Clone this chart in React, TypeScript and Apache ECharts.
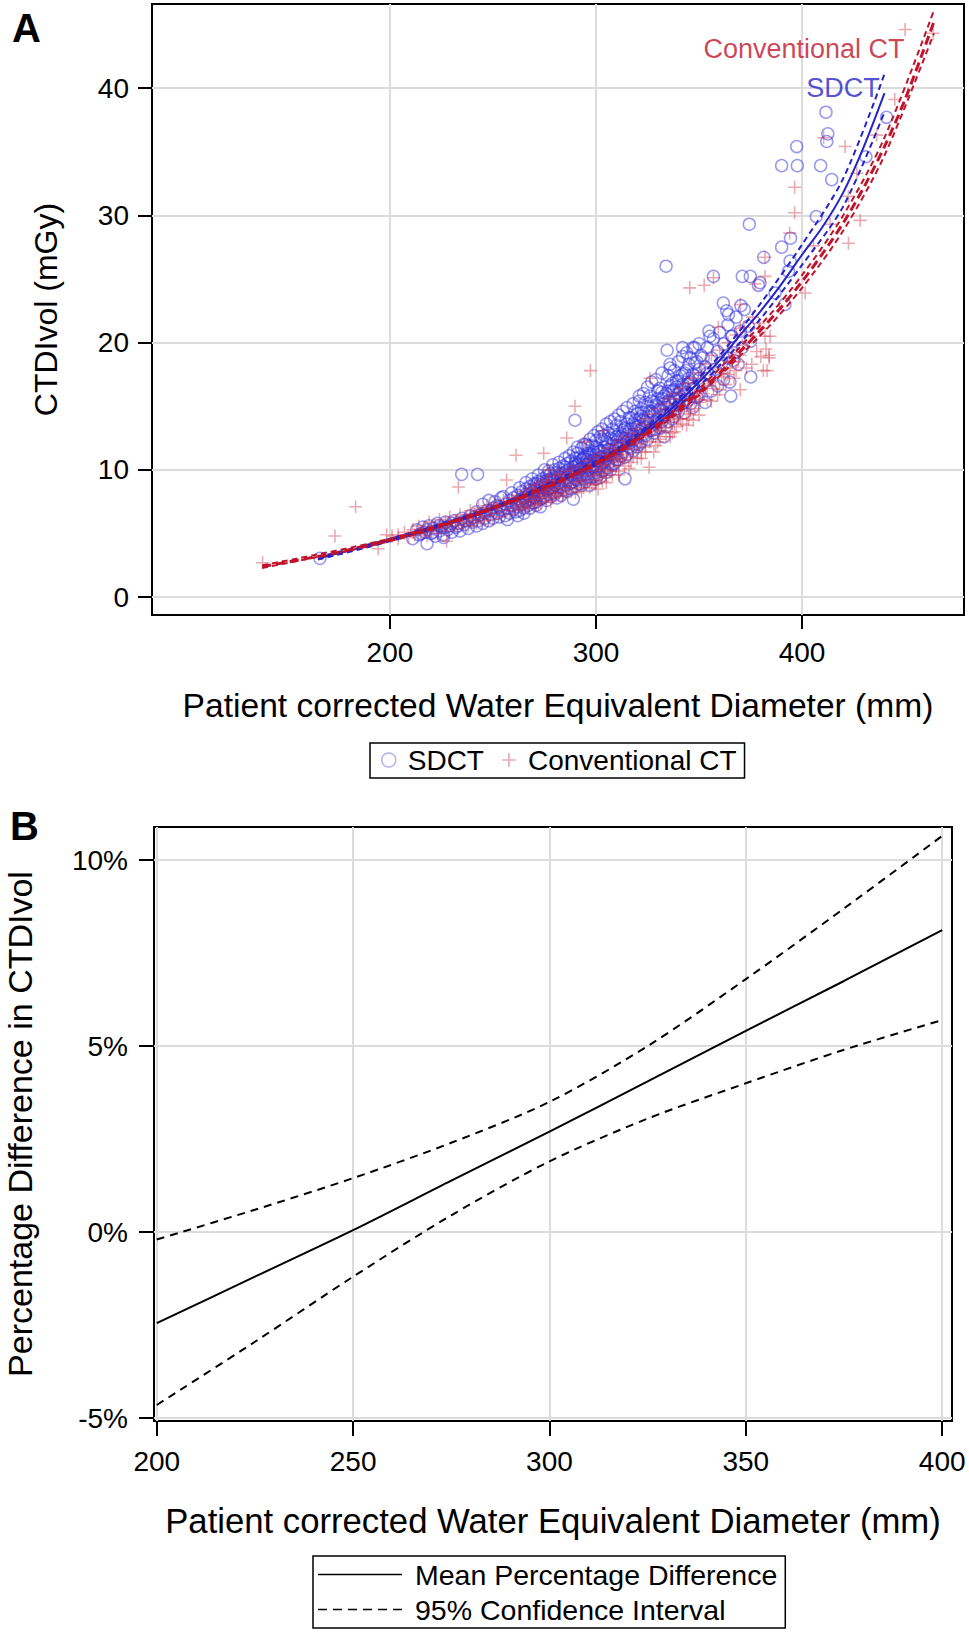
import React, { useEffect, useRef } from "react";
import * as echarts from "echarts";

const FONT = '"Liberation Sans", Arial, Helvetica, sans-serif';

// ---------- axis ticks ----------
const aXTicks = [200, 300, 400];
const aYTicks = [0, 10, 20, 30, 40];
const bXTicks = [200, 250, 300, 350, 400];
const bYTicks = [-5, 0, 5, 10];

// ---------- Panel A: SDCT scatter (diameter mm, CTDIvol mGy) ----------
const sdctBand = [
  [211,4.6],[213,5.3],[214,4.9],[216,5.5],[217,5.1],[219,5.6],[220,5.0],[221,5.4],[222,4.8],[223,5.8],
  [224,5.2],[225,5.5],[226,4.9],[227,5.9],[228,5.3],[229,5.6],[230,5.1],[231,6.0],[232,5.5],[233,5.8],
  [234,5.2],[235,6.2],[236,5.7],[237,6.0],[238,5.4],[239,6.4],[240,5.9],
  [241,6.3],[242,5.6],[242,6.7],[243,6.0],[244,6.5],[245,5.8],[245,7.3],[246,6.2],[247,6.8],[248,6.0],
  [248,7.6],[249,6.5],[250,7.0],[250,6.2],[251,7.5],[252,6.6],[253,7.1],[253,6.3],[254,7.8],[255,6.8],
  [256,7.3],[256,6.4],[257,7.0],[258,7.6],[258,6.6],[259,7.2],[260,6.9],[260,7.8],
  [261,7.4],[261,6.7],[262,8.0],[262,7.1],[263,7.6],[263,6.8],[264,8.3],[264,7.3],[265,7.8],[265,7.0],
  [266,8.5],[266,7.5],[267,8.0],[267,7.2],[268,8.7],[268,7.7],[269,8.2],[269,7.4],[270,8.9],[270,7.8],
  [271,8.4],[271,7.5],[272,9.1],[272,8.0],[273,8.6],[273,7.7],[274,9.3],[274,8.2],[275,8.8],[275,7.9],
  [276,9.5],[276,8.4],[277,9.0],[277,8.1],[278,9.7],[278,8.6],[279,9.2],[279,8.2],[280,10.0],[280,8.8],
  [281,9.4],[281,8.3],[282,10.1],[282,9.0],[283,9.6],[283,8.6],[284,10.3],[284,9.2],[285,9.8],[285,8.8],
  [286,10.5],[286,9.4],[287,10.0],[287,8.9],[288,10.7],[288,9.6],[289,10.2],[289,9.1],[290,10.9],[290,9.8],
  [291,10.4],[291,9.2],[291,11.3],[292,10.0],[292,8.9],[293,10.8],[293,9.6],[293,11.7],[294,10.2],[294,9.3],
  [295,11.0],[295,9.9],[295,12.0],[296,10.5],[296,9.4],[297,11.3],[297,10.1],[297,8.8],[298,10.7],[298,11.9],
  [299,10.3],[299,9.5],[300,11.2],[300,10.0],[300,12.3],[301,10.7],[301,9.6],[302,11.5],[302,10.3],[302,12.6],
  [303,11.0],[303,9.9],[304,11.8],[304,10.6],[305,12.2],[305,11.1],[305,9.8],[306,11.6],[306,10.5],[307,12.5],
  [307,11.2],[308,11.9],[308,10.4],[309,12.8],[309,11.5],[310,12.2],[310,10.8],[310,13.5],[311,11.7],[312,12.6],
  [312,11.1],[313,13.1],[313,12.0],[314,12.5],[314,11.0],[315,13.6],[315,12.2],[316,13.0],[317,12.4],[317,14.1],
  [318,12.8],[318,11.5],[319,13.5],[320,12.9],[320,11.8],[320,14.4],
  [321,13.4],[322,12.2],[322,14.8],[323,13.9],[324,12.7],[324,15.3],[325,14.2],[326,13.1],[326,15.8],[327,14.6],
  [328,12.9],[328,13.8],[329,15.1],[330,14.0],[330,16.2],[331,13.3],[331,14.8],[332,15.6],[333,14.3],[333,12.6],
  [334,16.0],[334,14.9],[335,15.4],[335,13.8],[336,16.6],[337,15.1],[337,14.0],[338,16.3],[339,15.5],[339,17.0],
  [340,14.6],[340,16.0],[341,17.4],[342,15.2],[342,16.7],[343,14.5],[344,17.8],[344,16.1],[345,15.5],[345,18.3],
  [346,16.9],[347,14.9],[347,17.5],[348,16.3],[349,18.5],
  [350,17.2],[350,15.8],[351,19.0],[352,16.8],[353,18.1],[353,15.3],[354,19.6],[355,17.5],[356,18.8],[356,16.2],
  [357,20.3],[358,17.9],[359,19.3],[359,16.6],[360,20.8],[361,18.4],[362,17.1],[362,19.9],[364,21.4],[364,18.8],
  [365,16.9],[366,20.5],[367,19.2],[368,22.0],[369,18.3],[370,20.9],[371,19.6],[372,22.6],[374,21.3],[375,20.1]
];
const sdctCore = [
  [215,5.0],[218,5.3],[221,5.1],[224,5.6],[227,5.5],[230,5.8],[233,5.6],[236,6.0],[239,6.1],[243,6.4],
  [246,6.6],[249,6.8],[252,7.2],[254,6.9],
  [255,7.9],[257,6.1],[259,8.2],[262,6.4],[263,8.6],[265,6.6],[266,9.0],[268,7.0],[269,9.3],[271,7.2],
  [272,9.6],[273,7.1],[274,8.9],[275,10.0],[276,7.6],[277,9.9],[278,7.9],[279,10.4],[280,9.4],[281,7.8],
  [282,10.6],[283,8.0],[284,9.7],[285,10.9],[286,8.3],[287,11.1],[288,8.5],[289,11.4],[290,10.3],[290,8.7],
  [291,11.8],[292,9.5],[292,11.0],[293,8.8],[294,12.0],[294,10.9],[295,9.1],[296,11.9],[296,10.8],[297,12.4],
  [298,9.4],[298,11.2],[299,12.7],[299,10.8],[300,9.3],[300,11.8],[301,13.0],[301,11.4],[302,9.4],[303,12.4],
  [303,13.2],[304,10.0],[304,12.7],[305,13.6],[306,10.2],[306,12.9],[307,13.8],[307,10.0],[308,13.2],[308,11.2],
  [309,14.0],[309,10.5],[310,12.6],[311,14.3],[311,10.8],[312,13.8],[313,11.4],[313,14.6],[314,13.2],[315,11.2],
  [315,14.9],[316,12.1],[316,14.1],[317,11.7],[318,15.2],[318,13.6],[319,12.0],[319,14.6],[320,13.4],[321,15.4],
  [321,12.0],[322,14.2],[323,12.8],[323,16.0],[324,13.8],[325,12.4],[325,16.5],[326,14.6],[327,13.1],[327,16.9],
  [328,15.3],[329,13.6],[329,17.1],[330,15.0],[331,16.4],[332,13.8],[332,17.6],[333,15.8],[334,13.4],[335,17.4],
  [336,14.6],[336,18.0],[337,16.2],[338,14.2],[338,17.8],[339,16.5],[340,18.5],[340,15.1],[341,16.3],[342,18.9],
  [343,15.9],[343,17.6],[344,19.2],[345,16.8],[346,15.2],[346,18.8],[347,19.6],[348,17.4],[349,15.7],[350,19.9]
];
const sdctCore2 = [
  [266,8.1],[267,7.6],[268,8.4],[269,7.9],[270,8.5],[270,7.4],[271,8.9],[272,8.3],[273,9.0],[274,7.8],
  [275,8.6],[276,9.2],[277,8.5],[278,9.3],[279,8.6],[280,9.1],[280,8.1],[281,9.8],[282,8.7],[283,9.4],
  [284,8.4],[285,10.2],[286,9.1],[287,9.7],[288,9.0],[289,9.9],[290,9.3],[290,10.6],[291,9.8],[292,10.5],
  [293,10.1],[294,10.9],[295,10.4],[296,11.3],[296,9.7],[297,10.7],[298,10.2],[299,11.4],[300,10.7],[300,9.8],
  [301,11.6],[302,11.0],[303,10.5],[304,11.5],[305,10.9],[306,12.1],[307,11.6],[308,12.4],[309,11.1],[310,11.9],
  [311,12.8],[312,11.9],[313,12.5],[314,13.3],[315,12.8],[316,11.8],[317,13.2],[318,12.3],[319,13.9],[320,12.6],
  [321,14.0],[322,13.2],[323,14.5],[324,13.4],[325,15.0],[326,13.9],[327,15.4],[328,14.4],[329,13.2],[330,15.6],
  [331,14.6],[332,16.1],[333,15.2],[334,14.3],[335,16.2],[336,15.3],[337,16.8],[338,15.6],[339,14.8],[340,17.0],
  [341,15.7],[342,17.5],[343,16.4],[344,15.3],[345,17.2],[347,16.4],[348,18.4],[350,17.9],[352,18.8],[354,17.6]
];
const sdctOutliers = [
  [334,26.0],[374.4,29.3],[411.6,38.1],[412.5,36.4],[412,35.8],[397.4,35.4],[390.1,33.9],[397.7,33.9],
  [409,33.9],[414.4,32.8],[431,34.6],[441,37.7],[406.9,29.9],[390.1,27.5],[394.4,28.2],[381.4,26.7],
  [394.2,26.4],[371,25.2],[374.9,25.2],[357,25.2],[391.7,23.0],[361.8,23.1],[363.4,22.5],[370.3,22.9],
  [375.1,17.3],[365.4,15.8],[354.8,20.9],[334.5,19.4],[335.9,18.3],[342,19.6],[348,19.6],[314.1,9.3],
  [289.8,13.9],[321,15.8],[234.8,9.65],[242.5,9.65],[166,3.05],[218,4.2],[226,4.7],[289,7.7],
  [393.4,25.6],[386.9,23.9],[379.6,24.7],[378.8,24.5],[364.3,22.2],[355.3,20.5],[365.9,20.5],[366.7,18.6]
];

// ---------- Panel A: Conventional CT scatter ----------
const convBand = [
  [201,4.8],[204,4.6],[207,5.1],[209,4.7],[211,5.3],[212,4.9],[214,5.6],[215,5.0],[217,5.4],[218,4.8],
  [219,5.9],[220,5.2],[222,5.6],[223,5.0],[224,6.1],[225,5.4],[227,5.8],[228,5.2],[229,6.3],[230,5.6],
  [232,6.0],[233,5.4],[234,6.5],[235,5.8],[237,6.2],[238,5.6],[239,6.8],[240,6.0],
  [241,6.5],[242,5.8],[243,7.0],[244,6.2],[245,6.7],[246,6.0],[247,7.2],[248,6.4],[249,6.9],[250,6.1],
  [251,7.4],[252,6.6],[253,7.1],[254,6.3],[255,7.6],[256,6.8],[257,7.3],[258,6.5],[259,7.8],[260,7.0],
  [261,7.5],[261,6.8],[262,8.0],[263,7.2],[264,7.7],[264,6.9],[265,8.3],[266,7.4],[267,7.9],[267,7.0],
  [268,8.5],[269,7.6],[270,8.1],[270,7.2],[271,8.8],[272,7.8],[273,8.3],[273,7.4],[274,9.0],[275,8.0],
  [276,8.6],[276,7.6],[277,9.2],[278,8.2],[279,8.8],[279,7.8],[280,9.5],[281,8.4],[282,9.0],[282,8.0],
  [283,9.7],[284,8.6],[285,9.2],[285,8.1],[286,9.9],[287,8.8],[288,9.4],[288,8.3],[289,10.1],[290,9.0],
  [291,9.6],[291,8.5],[292,10.3],[293,9.2],[293,8.3],[294,9.9],[295,10.7],[295,8.9],[296,9.5],[297,10.4],
  [297,8.6],[298,9.9],[299,10.9],[299,9.2],[300,10.2],[300,8.9],[301,11.1],[302,9.7],[302,10.6],[303,9.1],
  [304,11.3],[304,10.0],[305,10.8],[305,9.4],[306,11.7],[307,10.3],[308,11.1],[308,9.6],[309,12.0],[310,10.6],
  [310,11.5],[311,9.9],[312,12.3],[312,10.9],[313,11.7],[314,10.3],[315,12.6],[315,11.2],[316,12.1],[317,10.6],
  [318,12.9],[318,11.6],[319,12.4],[320,10.9],[320,13.2],
  [321,12.0],[322,13.6],[322,11.4],[323,12.6],[324,14.0],[324,11.8],[325,13.1],[326,12.2],[327,14.4],[327,12.7],
  [328,13.5],[329,11.9],[330,14.8],[330,13.0],[331,12.4],[332,14.1],[333,15.2],[333,13.3],[334,12.6],[335,14.6],
  [336,13.7],[336,15.6],[337,12.9],[338,14.2],[339,16.0],[339,13.4],[340,15.1],[341,14.0],[342,16.4],[342,13.6],
  [343,15.5],[344,14.4],[345,16.8],[345,14.0],[346,15.8],[347,17.2],[348,14.8],[349,16.3],[350,15.3],
  [351,17.6],[352,16.0],[353,18.3],[354,15.5],[355,17.0],[356,19.0],[357,16.4],[358,18.0],[359,15.9],[360,19.4],
  [361,17.3],[362,18.6],[363,16.7],[364,20.0],[365,18.0],[366,19.2],[367,17.2],[368,20.6],[369,18.5],[370,16.3],
  [371,19.8],[372,21.2],[373,18.0],[375,20.5],[376,22.0],[378,19.3],[379,21.5],[380,18.9],[382,20.5],[384,19.0],
  [383,17.8]
];
const convCore = [
  [262,7.5],[265,7.1],[268,7.9],[270,8.6],[272,7.3],[274,8.4],[276,9.1],[278,7.5],[280,8.2],[282,9.6],
  [284,7.9],[286,8.6],[288,9.9],[290,8.2],[292,9.1],[294,8.6],[296,10.1],[298,8.8],[300,9.6],[301,8.5],
  [303,10.4],[305,9.0],[307,9.9],[309,10.9],[311,9.6],[313,10.8],[315,11.7],[316,10.1],[318,11.0],[320,12.1],
  [322,10.9],[324,11.4],[326,13.4],[328,11.4],[330,12.2],[332,13.1],[334,13.9],[336,12.6],[338,13.0],[340,14.0],
  [342,15.0],[344,13.5],[346,14.6],[348,15.8],[350,14.3],[352,17.0],[354,16.6],[356,15.4],[358,16.9],[360,16.3],
  [362,17.6],[364,17.5],[366,18.5],[368,17.8],[370,19.0]
];
const convOutliers = [
  [450,44.6],[463.6,44.3],[445,39.1],[436.2,36.3],[420.9,35.4],[410.5,36.1],[396.4,32.2],[396.4,30.2],
  [426.6,33.3],[428.2,29.6],[422.5,27.8],[422.5,31.5],[413.6,29.3],[394,28.6],[405.5,27.6],[401.5,23.9],
  [382,26.7],[382,25.2],[345.5,24.3],[352.5,24.5],[357,25.1],[377.2,24.6],[370,23.0],[297.3,17.8],
  [289.8,15.0],[285.8,12.5],[294.5,12.2],[382.5,19.5],[384,18.8],[375.6,18.3],[381.2,17.8],[370,21.1],
  [379.6,21.1],[384.5,20.5],[325.8,10.2],[303.5,13.1],[326.2,17.2],[359.4,21.2],[347.2,13.9],[350.5,15.5],
  [261.2,11.15],[274.6,11.3],[183.3,7.1],[173.3,4.8],[138.2,2.7],[233.2,8.65],[198.4,4.9],[194.3,3.8],
  [204,4.9],[256.6,9.2],[276.8,10.0],[227.5,4.4]
];

// ---------- Panel A: fitted curves with 95% CI ----------
const sdctFit = [
  [165,3.05],[170,3.25],[180,3.65],[190,4.05],[200,4.5],[210,4.95],[220,5.4],[230,5.9],[240,6.45],[250,7.0],
  [260,7.6],[270,8.25],[280,8.95],[290,9.7],[300,10.55],[310,11.5],[320,12.6],[330,13.9],[340,15.3],[350,16.9],
  [360,18.6],[370,20.6],[380,22.5],[390,24.6],[400,26.9],[410,29.1],[420,31.8],[430,35.4],[440,39.6]
];
const sdctUpper = [
  [165,3.15],[200,4.6],[250,7.1],[300,10.7],[320,12.8],[340,15.6],[360,19.0],[380,23.1],[400,27.7],[420,32.9],[440,41.1]
];
const sdctLower = [
  [165,2.95],[200,4.4],[250,6.9],[300,10.4],[320,12.4],[340,15.0],[360,18.2],[380,21.9],[400,26.1],[420,30.7],[440,38.1]
];
const convFit = [
  [138,2.4],[150,2.75],[160,3.05],[170,3.35],[180,3.7],[190,4.1],[200,4.5],[210,4.95],[220,5.4],[230,5.9],
  [240,6.45],[250,7.0],[260,7.6],[270,8.25],[280,8.95],[290,9.7],[300,10.5],[310,11.4],[320,12.4],[330,13.5],
  [340,14.7],[350,16.1],[360,17.6],[370,19.3],[380,21.0],[390,22.8],[400,24.8],[410,27.0],[420,29.4],[430,32.2],
  [440,35.4],[450,39.1],[464,45.2]
];
const convUpper = [
  [138,2.5],[200,4.6],[250,7.1],[300,10.6],[340,14.9],[380,21.4],[400,25.3],[420,30.0],[440,36.1],[464,46.1]
];
const convLower = [
  [138,2.3],[200,4.4],[250,6.9],[300,10.4],[340,14.5],[380,20.6],[400,24.3],[420,28.8],[440,34.7],[464,44.3]
];

// curve labels anchored in data space (right end of text)
const curveLabels = [
  { text: "Conventional CT", x: 450, y: 43.1, color: "#c0142c" },
  { text: "SDCT", x: 438, y: 40.0, color: "#2424c8" }
];

// ---------- Panel B: percentage difference ----------
const bDiameter = [200, 225, 250, 275, 300, 325, 350, 375, 400];
const bMean = [-2.45, -1.2, 0.05, 1.38, 2.7, 4.05, 5.41, 6.75, 8.12];
const bUpper = [-0.2, 0.6, 1.45, 2.4, 3.5, 5.0, 6.8, 8.7, 10.65];
const bLower = [-4.65, -2.95, -1.2, 0.45, 1.9, 3.05, 4.0, 4.9, 5.7];

const BLUE_PT = "rgba(48,48,222,0.62)";
const RED_PT = "rgba(205,40,60,0.5)";
const BLUE_LINE = "#2424c8";
const RED_LINE = "#c0142c";
const GRID_C = "#dcdcdc";
const PLUS = "path://M4.4,0H5.6V4.4H10V5.6H5.6V10H4.4V5.6H0V4.4H4.4Z";

function baseAxis(extra: any) {
  return {
    type: "value",
    axisLine: { show: false, onZero: false },
    splitLine: { show: true, lineStyle: { color: GRID_C, width: 2 } },
    nameLocation: "middle",
    nameTextStyle: { color: "#000", fontFamily: FONT },
    ...extra
  };
}

export default function App() {
  const ref = useRef<HTMLDivElement>(null);
  useEffect(() => {
    if (!ref.current) return;
    const chart = echarts.init(ref.current, undefined, { renderer: "svg" });
    const lbl = (custom: number[], margin: number, fmt?: any) => ({
      customValues: custom,
      fontSize: 28,
      color: "#000",
      fontFamily: FONT,
      margin,
      formatter: fmt
    });
    const tick = (custom: number[], len: number) => ({
      show: true,
      length: len,
      customValues: custom,
      lineStyle: { color: "#000", width: 2 }
    });
    const option: any = {
      animation: false,
      backgroundColor: "#fff",
      textStyle: { fontFamily: FONT },
      graphic: [
        { type: "text", left: 12, top: 8, style: { text: "A", font: `bold 40px ${FONT}`, fill: "#000" } },
        { type: "text", left: 10, top: 806, style: { text: "B", font: `bold 40px ${FONT}`, fill: "#000" } }
      ],
      grid: [
        { left: 152, top: 4, width: 812, height: 611, show: true, borderColor: "#000", borderWidth: 2, outerBoundsMode: "none", containLabel: false },
        { left: 154, top: 827, width: 798, height: 594, show: true, borderColor: "#000", borderWidth: 2, outerBoundsMode: "none", containLabel: false }
      ],
      xAxis: [
        baseAxis({
          gridIndex: 0, min: 84.5, max: 478.6,
          name: "Patient corrected Water Equivalent Diameter (mm)", nameGap: 73,
          nameTextStyle: { color: "#000", fontFamily: FONT, fontSize: 33.6 },
          axisTick: tick(aXTicks, 14), axisLabel: lbl(aXTicks, 23)
        }),
        baseAxis({
          gridIndex: 1, min: 199.3, max: 402.5,
          name: "Patient corrected Water Equivalent Diameter (mm)", nameGap: 82,
          nameTextStyle: { color: "#000", fontFamily: FONT, fontSize: 34.7 },
          axisTick: tick(bXTicks, 15), axisLabel: lbl(bXTicks, 26)
        })
      ],
      yAxis: [
        baseAxis({
          gridIndex: 0, min: -1.4, max: 46.6,
          name: "CTDIvol (mGy)", nameGap: 90, nameRotate: 90,
          nameTextStyle: { color: "#000", fontFamily: FONT, fontSize: 32 },
          axisTick: tick(aYTicks, 14), axisLabel: lbl(aYTicks, 23)
        }),
        baseAxis({
          gridIndex: 1, min: -5.08, max: 10.89,
          name: "Percentage Difference in CTDIvol", nameGap: 117, nameRotate: 90,
          nameTextStyle: { color: "#000", fontFamily: FONT, fontSize: 34 },
          axisTick: tick(bYTicks, 15), axisLabel: lbl(bYTicks, 26, (v: number) => `${v}%`)
        })
      ],
      legend: [
        {
          left: 370, top: 743, orient: "horizontal",
          padding: [3, 8, 4, 11], itemGap: 18, itemWidth: 14, itemHeight: 14,
          borderColor: "#000", borderWidth: 1.5, selectedMode: false,
          textStyle: { fontSize: 28, color: "#000", fontFamily: FONT, padding: [0, 0, 0, 7] },
          data: [
            { name: "SDCT", icon: "circle", itemStyle: { color: "rgba(0,0,0,0)", borderColor: "rgba(60,60,225,0.5)", borderWidth: 1.5 } },
            { name: "Conventional CT", icon: PLUS, itemStyle: { color: RED_PT, borderWidth: 0 } }
          ]
        },
        {
          left: 313, top: 1556, orient: "vertical",
          padding: [4, 8, 4, 5], itemGap: 6, itemWidth: 84, itemHeight: 14,
          borderColor: "#000", borderWidth: 1.5, selectedMode: false,
          textStyle: { fontSize: 28.5, color: "#000", fontFamily: FONT, padding: [0, 0, 0, 8] },
          data: [
            { name: "Mean Percentage Difference", icon: "path://M0,0H84V1.6H0Z", itemStyle: { color: "#000" } },
            { name: "95% Confidence Interval", icon: "path://M0,0H9V1.6H0ZM15,0H24V1.6H15ZM30,0H39V1.6H30ZM45,0H54V1.6H45ZM60,0H69V1.6H60ZM75,0H84V1.6H75Z", itemStyle: { color: "#000" } }
          ]
        }
      ],
      series: [
        {
          name: "SDCT", type: "scatter", xAxisIndex: 0, yAxisIndex: 0,
          symbol: "circle", symbolSize: 12,
          itemStyle: { color: "rgba(0,0,0,0)", borderColor: BLUE_PT, borderWidth: 1.5 },
          data: [...sdctBand, ...sdctCore, ...sdctCore2, ...sdctOutliers], silent: true
        },
        {
          name: "Conventional CT", type: "scatter", xAxisIndex: 0, yAxisIndex: 0,
          symbol: PLUS, symbolSize: 13,
          itemStyle: { color: RED_PT },
          data: [...convBand, ...convCore, ...convOutliers], silent: true
        },
        {
          name: "SDCT fit", type: "line", xAxisIndex: 0, yAxisIndex: 0, showSymbol: false, smooth: 0.3, silent: true,
          lineStyle: { color: BLUE_LINE, width: 2 }, data: sdctFit
        },
        {
          name: "SDCT upper", type: "line", xAxisIndex: 0, yAxisIndex: 0, showSymbol: false, smooth: 0.3, silent: true,
          lineStyle: { color: BLUE_LINE, width: 2, type: [6, 4] }, data: sdctUpper
        },
        {
          name: "SDCT lower", type: "line", xAxisIndex: 0, yAxisIndex: 0, showSymbol: false, smooth: 0.3, silent: true,
          lineStyle: { color: BLUE_LINE, width: 2, type: [6, 4] }, data: sdctLower
        },
        {
          name: "Conv fit", type: "line", xAxisIndex: 0, yAxisIndex: 0, showSymbol: false, smooth: 0.3, silent: true,
          lineStyle: { color: RED_LINE, width: 3, type: [9, 5] }, data: convFit
        },
        {
          name: "Conv upper", type: "line", xAxisIndex: 0, yAxisIndex: 0, showSymbol: false, smooth: 0.3, silent: true,
          lineStyle: { color: RED_LINE, width: 2, type: [6, 4] }, data: convUpper
        },
        {
          name: "Conv lower", type: "line", xAxisIndex: 0, yAxisIndex: 0, showSymbol: false, smooth: 0.3, silent: true,
          lineStyle: { color: RED_LINE, width: 2, type: [6, 4] }, data: convLower
        },
        {
          name: "curve labels", type: "scatter", xAxisIndex: 0, yAxisIndex: 0, silent: true,
          symbolSize: 1, itemStyle: { color: "rgba(0,0,0,0)" },
          data: curveLabels.map((c) => ({
            value: [c.x, c.y],
            label: { show: true, position: "left", distance: 0, formatter: c.text, color: c.color, fontSize: 27, fontFamily: FONT }
          }))
        },
        {
          name: "Mean Percentage Difference", type: "line", xAxisIndex: 1, yAxisIndex: 1, showSymbol: false, smooth: 0.3, silent: true,
          lineStyle: { color: "#000", width: 2 }, data: bDiameter.map((x, i) => [x, bMean[i]])
        },
        {
          name: "95% Confidence Interval", type: "line", xAxisIndex: 1, yAxisIndex: 1, showSymbol: false, smooth: 0.3, silent: true,
          lineStyle: { color: "#000", width: 2, type: [8, 6] }, data: bDiameter.map((x, i) => [x, bUpper[i]])
        },
        {
          name: "95% Confidence Interval", type: "line", xAxisIndex: 1, yAxisIndex: 1, showSymbol: false, smooth: 0.3, silent: true,
          lineStyle: { color: "#000", width: 2, type: [8, 6] }, data: bDiameter.map((x, i) => [x, bLower[i]])
        }
      ]
    };
    chart.setOption(option);
    return () => chart.dispose();
  }, []);
  return (
    <div
      ref={ref}
      style={{ position: "absolute", left: 0, top: 0, width: 969, height: 1632, background: "#fff" }}
    />
  );
}
